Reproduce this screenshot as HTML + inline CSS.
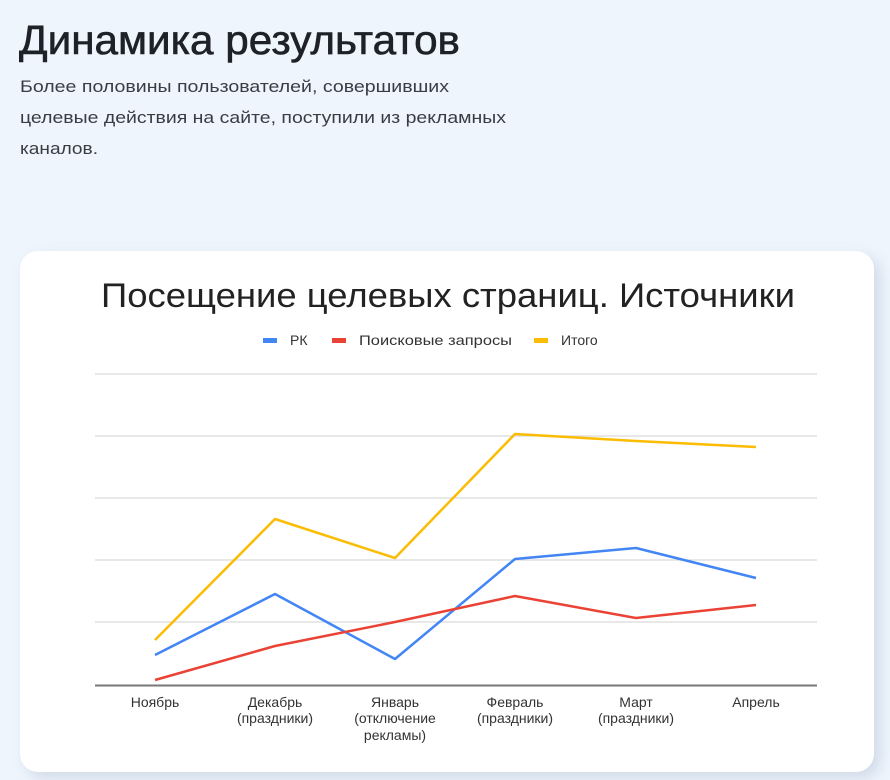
<!DOCTYPE html>
<html><head><meta charset="utf-8"><style>
html,body{margin:0;padding:0}
body{width:890px;height:780px;background:#eef5fd;position:relative;overflow:hidden;font-family:"Liberation Sans",sans-serif}
.card{position:absolute;left:20px;top:251px;width:854px;height:521px;background:#fff;border-radius:18px;box-shadow:6px 6px 14px rgba(120,140,170,0.25)}
svg{position:absolute;left:0;top:0}
</style></head><body>
<div class="card"></div>
<svg width="890" height="780" font-family="Liberation Sans, sans-serif">
<text x="19" y="54" font-size="41" fill="#1f2128" stroke="#1f2128" stroke-width="0.6" textLength="441" lengthAdjust="spacingAndGlyphs">Динамика результатов</text>
<g font-size="16.5" fill="#3a3c44">
<text x="20" y="92" textLength="429" lengthAdjust="spacingAndGlyphs">Более половины пользователей, совершивших</text>
<text x="20" y="123" textLength="486" lengthAdjust="spacingAndGlyphs">целевые действия на сайте, поступили из рекламных</text>
<text x="20" y="154" textLength="78" lengthAdjust="spacingAndGlyphs">каналов.</text>
</g>
<text x="448" y="307" text-anchor="middle" font-size="34" fill="#222" textLength="694" lengthAdjust="spacingAndGlyphs">Посещение целевых страниц. Источники</text>
<rect x="263" y="338" width="14" height="5" fill="#4285f4"/>
<text x="290" y="345" font-size="14" fill="#333">РК</text>
<rect x="332" y="338" width="14" height="5" fill="#ea4335"/>
<text x="359" y="345" font-size="14" fill="#333" textLength="153" lengthAdjust="spacingAndGlyphs">Поисковые запросы</text>
<rect x="534" y="338" width="14" height="5" fill="#fbbc04"/>
<text x="561" y="345" font-size="14" fill="#333">Итого</text>
<g stroke="#d9d9d9" stroke-width="1.2">
<line x1="95" y1="374" x2="817" y2="374"/><line x1="95" y1="436" x2="817" y2="436"/>
<line x1="95" y1="498" x2="817" y2="498"/><line x1="95" y1="560" x2="817" y2="560"/>
<line x1="95" y1="622" x2="817" y2="622"/>
</g>
<line x1="95" y1="685.5" x2="817" y2="685.5" stroke="#777" stroke-width="2"/>
<g fill="none" stroke-width="2.5" stroke-linejoin="round">
<polyline stroke="#fbbc04" points="155,640 275,519 395,558 515,434 636,441 756,447"/>
<polyline stroke="#4285f4" points="155,655 275,594 395,659 515,559 636,548 756,578"/>
<polyline stroke="#ea4335" points="155,680 275,646 395,622 515,596 636,618 756,605"/>
</g>
<g font-size="14" fill="#333" text-anchor="middle">
<text x="155" y="707">Ноябрь</text>
<text x="275" y="707">Декабрь</text><text x="275" y="723">(праздники)</text>
<text x="395" y="707">Январь</text><text x="395" y="723">(отключение</text><text x="395" y="740">рекламы)</text>
<text x="515" y="707">Февраль</text><text x="515" y="723">(праздники)</text>
<text x="636" y="707">Март</text><text x="636" y="723">(праздники)</text>
<text x="756" y="707">Апрель</text>
</g>
</svg>
</body></html>
